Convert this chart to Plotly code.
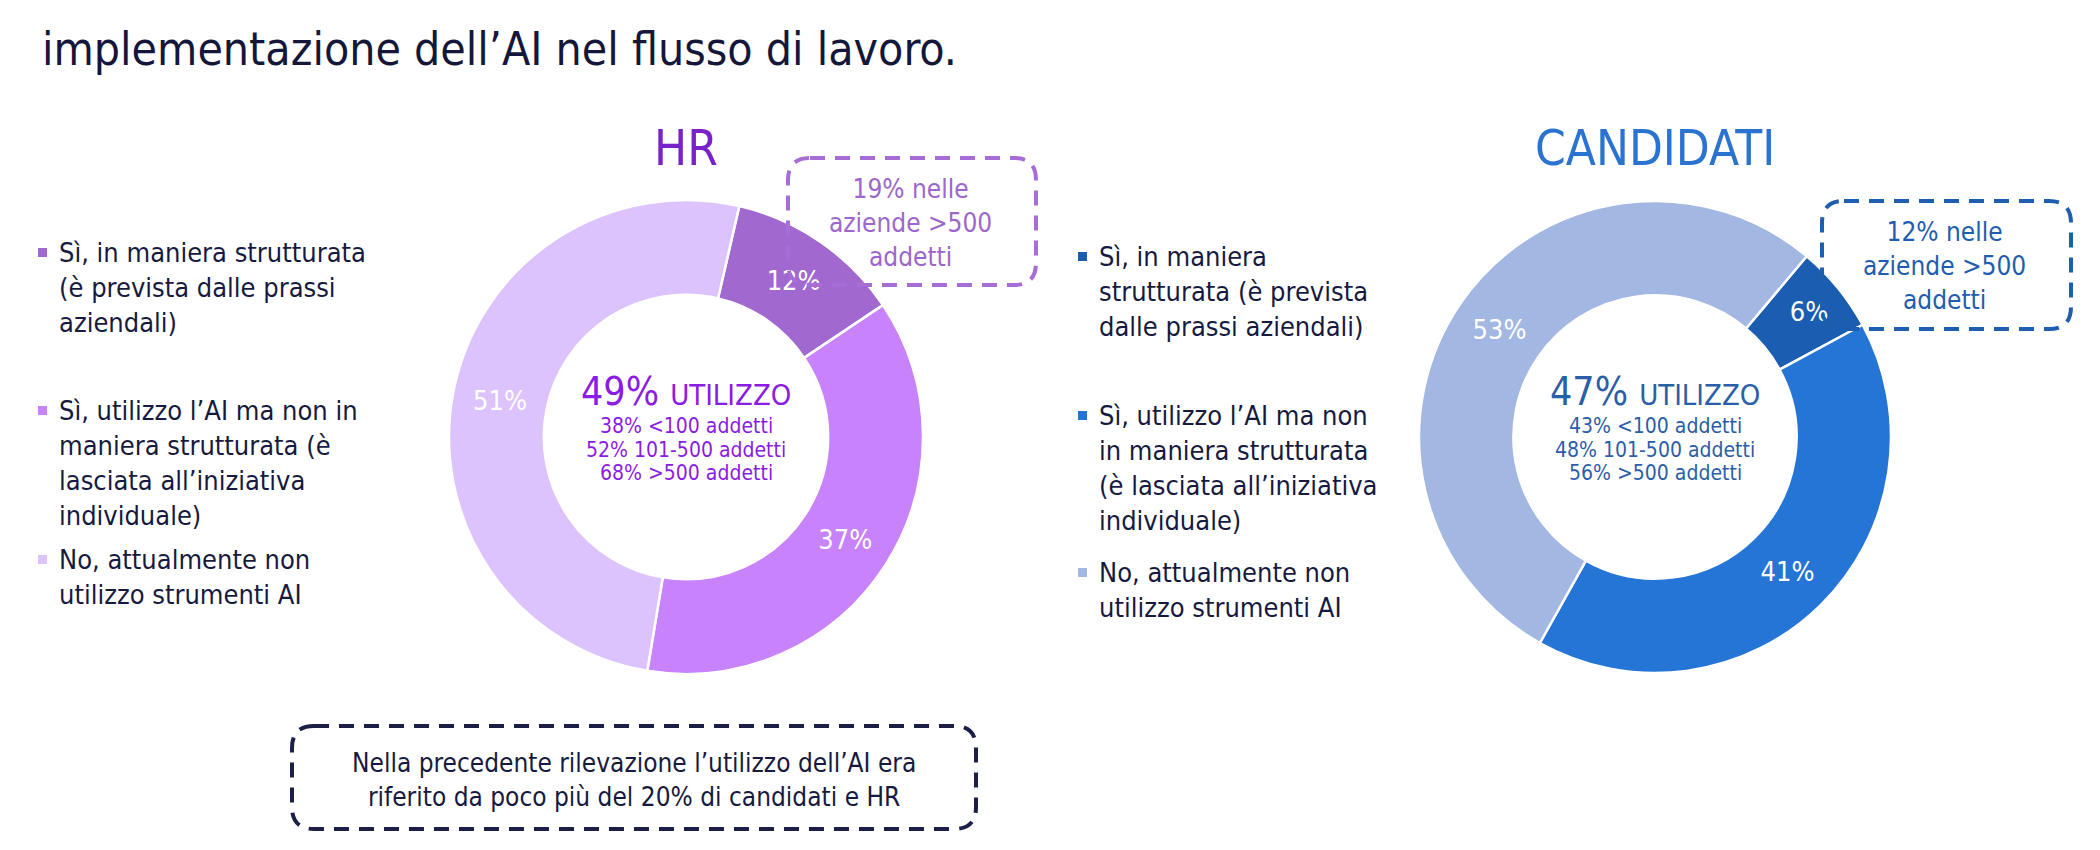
import plotly.graph_objects as go

# --- data -------------------------------------------------------------
categories = [
    "Sì, in maniera strutturata (è prevista dalle prassi aziendali)",
    "Sì, utilizzo l’AI ma non in maniera strutturata (è lasciata all’iniziativa individuale)",
    "No, attualmente non utilizzo strumenti AI",
]
# legend text as wrapped in the slide (different width for the two panels)
hr_legend = [
    "Sì, in maniera strutturata<br>(è prevista dalle prassi<br>aziendali)",
    "Sì, utilizzo l’AI ma non in<br>maniera strutturata (è<br>lasciata all’iniziativa<br>individuale)",
    "No, attualmente non<br>utilizzo strumenti AI",
]
cand_legend = [
    "Sì, in maniera<br>strutturata (è prevista<br>dalle prassi aziendali)",
    "Sì, utilizzo l’AI ma non<br>in maniera strutturata<br>(è lasciata all’iniziativa<br>individuale)",
    "No, attualmente non<br>utilizzo strumenti AI",
]

hr_values = [12, 37, 51]
cand_values = [6, 41, 53]

size_labels = ["&lt;100 addetti", "101-500 addetti", "&gt;500 addetti"]
hr_usage = 49
hr_by_size = [38, 52, 68]
cand_usage = 47
cand_by_size = [43, 48, 56]

hr_struct_big = 19    # % strutturato nelle aziende >500 addetti
cand_struct_big = 12

title = "implementazione dell’AI nel flusso di lavoro."
note = "Nella precedente rilevazione l’utilizzo dell’AI era<br>riferito da poco più del 20% di candidati e HR"

# --- styles -----------------------------------------------------------
W, H = 2100, 850
FONT = "DejaVu Sans Condensed, DejaVu Sans, sans-serif"
NAVY = "#171a40"

hr_colors = ["#a168d0", "#c882fb", "#ddc3fd"]
cand_colors = ["#1b5db0", "#2575d6", "#a3b7e3"]

panels = [
    dict(name="HR", values=hr_values, colors=hr_colors, legend=hr_legend,
         cx=686, cy=437, r=237, rotation=13, title_color="#7a22c9",
         center_color="#8a1ce3", usage=hr_usage, by_size=hr_by_size,
         leg_x=57, leg_y=[253, 411, 560],
         box=(788, 158, 1036, 285), box_color="#a66dd6", box_text_color="#9c66cc",
         big=hr_struct_big),
    dict(name="CANDIDATI", values=cand_values, colors=cand_colors, legend=cand_legend,
         cx=1655, cy=437, r=236, rotation=40, title_color="#2a73d0",
         center_color="#2b5ea8", usage=cand_usage, by_size=cand_by_size,
         leg_x=1097, leg_y=[257, 416, 573],
         box=(1822, 201, 2071, 329), box_color="#1f5dae", box_text_color="#1f5dae",
         big=cand_struct_big),
]


def rounded_box(x0, y0, x1, y1, r=22):
    return (f"M {x0+r},{y0} L {x1-r},{y0} Q {x1},{y0} {x1},{y0+r} "
            f"L {x1},{y1-r} Q {x1},{y1} {x1-r},{y1} L {x0+r},{y1} "
            f"Q {x0},{y1} {x0},{y1-r} L {x0},{y0+r} Q {x0},{y0} {x0+r},{y0} Z")


fig = go.Figure()
annotations = []
shapes = []

for p in panels:
    # donut, domain computed from centre/radius in pixels
    fig.add_trace(go.Pie(
        labels=categories,
        values=p["values"],
        hole=0.6,
        sort=False,
        direction="clockwise",
        rotation=p["rotation"],
        marker=dict(colors=p["colors"], line=dict(color="white", width=2.5)),
        texttemplate="%{value}%",
        textposition="inside",
        insidetextorientation="horizontal",
        textfont=dict(family=FONT, size=27, color="white"),
        hoverinfo="skip",
        showlegend=False,
        domain=dict(x=[(p["cx"] - p["r"]) / W, (p["cx"] + p["r"]) / W],
                    y=[1 - (p["cy"] + p["r"]) / H, 1 - (p["cy"] - p["r"]) / H]),
    ))

    # panel title
    annotations.append(dict(x=p["cx"], y=148, text=p["name"], showarrow=False,
                            font=dict(family=FONT, size=49, color=p["title_color"]),
                            xanchor="center", yanchor="middle"))

    # centre text
    annotations.append(dict(
        x=p["cx"], y=391,
        text=f"{p['usage']}% <span style='font-size:29px'>UTILIZZO</span>",
        showarrow=False, font=dict(family=FONT, size=39, color=p["center_color"]),
        xanchor="center", yanchor="middle"))
    for i, (v, lab) in enumerate(zip(p["by_size"], size_labels)):
        annotations.append(dict(
            x=p["cx"], y=426 + i * 23.5, text=f"{v}% {lab}", showarrow=False,
            font=dict(family=FONT, size=21, color=p["center_color"]),
            xanchor="center", yanchor="middle"))

    # legend: square swatch + wrapped label
    for col, txt, ly in zip(p["colors"], p["legend"], p["leg_y"]):
        shapes.append(dict(type="rect", xref="x", yref="y",
                           x0=p["leg_x"] - 19, x1=p["leg_x"] - 10,
                           y0=ly - 5, y1=ly + 4,
                           fillcolor=col, line=dict(width=0)))
        annotations.append(dict(x=p["leg_x"], y=ly - 18, text=txt, showarrow=False,
                                align="left", xanchor="left", yanchor="top",
                                font=dict(family=FONT, size=27, color=NAVY)))

    # dashed callout
    x0, y0, x1, y1 = p["box"]
    shapes.append(dict(type="path", xref="x", yref="y", path=rounded_box(x0, y0, x1, y1),
                       line=dict(color=p["box_color"], width=4, dash="15px,10px")))
    annotations.append(dict(x=(x0 + x1) / 2 - 2, y=(y0 + y1) / 2 + 1,
                            text=f"{p['big']}% nelle<br>aziende &gt;500<br>addetti",
                            showarrow=False, xanchor="center", yanchor="middle",
                            font=dict(family=FONT, size=26, color=p["box_text_color"])))

# page title
annotations.append(dict(x=40, y=49, text=title, showarrow=False, xanchor="left",
                        yanchor="middle", font=dict(family=FONT, size=46, color="#14173a")))

# bottom note
shapes.append(dict(type="path", xref="x", yref="y", path=rounded_box(292, 726, 976, 829),
                   line=dict(color="#1b1f48", width=4, dash="15px,10px")))
annotations.append(dict(x=634, y=780, text=note, showarrow=False, xanchor="center",
                        yanchor="middle", font=dict(family=FONT, size=26, color=NAVY)))

for a in annotations:
    a.setdefault("xref", "x")
    a.setdefault("yref", "y")

fig.update_layout(
    width=W, height=H,
    margin=dict(l=0, r=0, t=0, b=0),
    paper_bgcolor="white", plot_bgcolor="white",
    xaxis=dict(range=[0, W], visible=False, fixedrange=True, domain=[0, 1]),
    yaxis=dict(range=[H, 0], visible=False, fixedrange=True, domain=[0, 1]),
    annotations=annotations,
    shapes=shapes,
)

fig.write_html("out.html", config={"displayModeBar": False},
               post_script="document.body.style.margin='0';")
